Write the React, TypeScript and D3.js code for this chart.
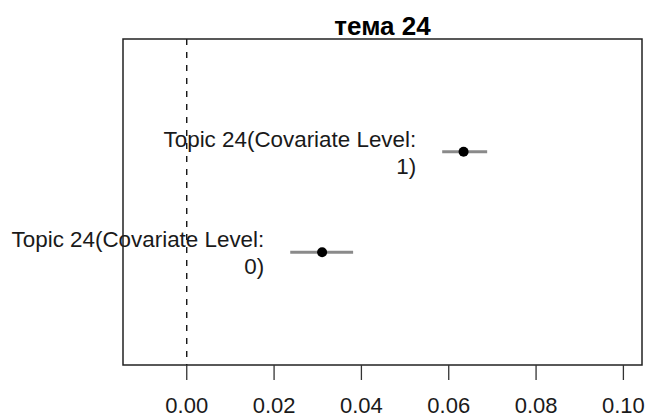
import React from "react";
import * as d3 from "d3";

const title = "тема 24";
const covariateLevels = ["1", "0"];
const labelPrefix = "Topic 24(Covariate Level:";
const estimates = [0.0634, 0.031];
const ciLower = [0.0585, 0.0237];
const ciUpper = [0.0688, 0.0381];
const yPositions = [2, 1];
const xTicks = [0, 0.02, 0.04, 0.06, 0.08, 0.1];

const W = 647;
const H = 418;
const box = { left: 123, right: 642, top: 39, bottom: 365 };

export default function App() {
  const x = d3.scaleLinear().domain([-0.0146, 0.10426]).range([box.left, box.right]);
  const y = d3.scaleLinear().domain([-0.12, 3.12]).range([box.bottom, box.top]);
  const font = "'Liberation Sans', Arial, sans-serif";

  return (
    <svg
      width={W}
      height={H}
      style={{ position: "fixed", left: 0, top: 0, background: "#fff" }}
      fontFamily={font}
    >
      <rect x={0} y={0} width={W} height={H} fill="#fff" />
      <text
        x={(box.left + box.right) / 2}
        y={35}
        textAnchor="middle"
        fontWeight="bold"
        fontSize={26}
        fill="#000"
      >
        {title}
      </text>
      <line
        x1={x(0)}
        x2={x(0)}
        y1={box.top}
        y2={box.bottom}
        stroke="#000"
        strokeWidth={1.3}
        strokeDasharray="6,7"
      />
      {estimates.map((est, i) => {
        const cy = y(yPositions[i]);
        const lx = x(ciLower[i]) - 26;
        return (
          <g key={i}>
            <line
              x1={x(ciLower[i])}
              x2={x(ciUpper[i])}
              y1={cy}
              y2={cy}
              stroke="#8a8a8a"
              strokeWidth={3}
            />
            <circle cx={x(est)} cy={cy} r={5} fill="#000" />
            <text x={lx} y={cy - 5} textAnchor="end" fontSize={22.4} fill="#1a1a1a">
              {labelPrefix}
            </text>
            <text x={lx} y={cy + 22} textAnchor="end" fontSize={22.4} fill="#1a1a1a">
              {covariateLevels[i] + ")"}
            </text>
          </g>
        );
      })}
      <rect
        x={box.left}
        y={box.top}
        width={box.right - box.left}
        height={box.bottom - box.top}
        fill="none"
        stroke="#222"
        strokeWidth={1.5}
      />
      {xTicks.map((t) => (
        <g key={t}>
          <line x1={x(t)} x2={x(t)} y1={box.bottom} y2={box.bottom + 15} stroke="#333" strokeWidth={1.3} />
          <text x={x(t)} y={413} textAnchor="middle" fontSize={22} fill="#1a1a1a">
            {d3.format(".2f")(t)}
          </text>
        </g>
      ))}
    </svg>
  );
}
